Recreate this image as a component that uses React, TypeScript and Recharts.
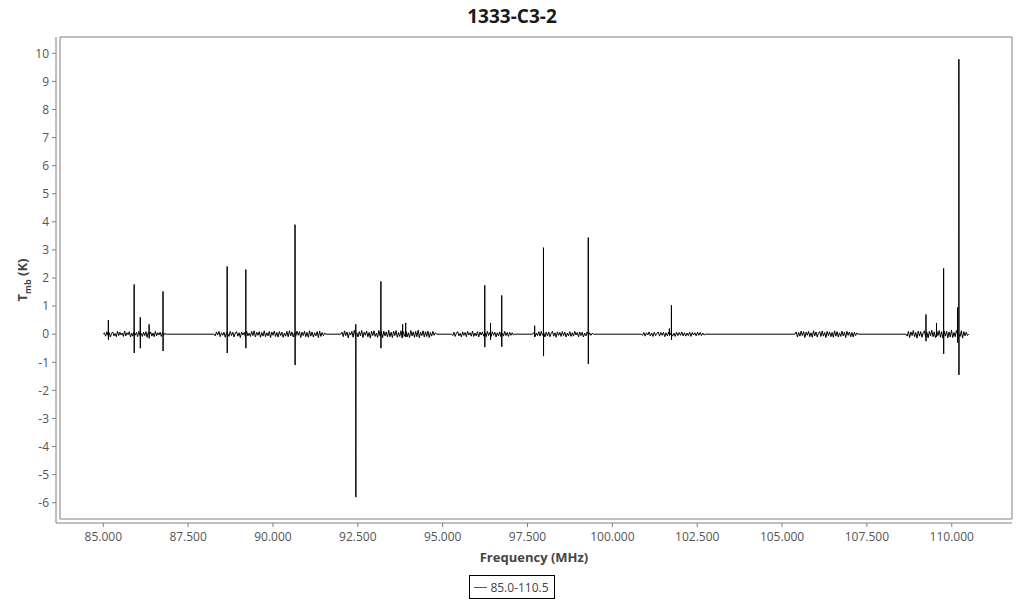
import { LineChart, Line, XAxis, YAxis, ReferenceArea, Legend } from 'recharts';

// Observed spectrum: 8 scanned windows (channel grid start/end in MHz) with baseline noise,
// plus the strong lines picked off the plot.
const segStart = [85.0, 88.26, 92.0, 95.26, 97.65, 100.85, 105.38, 108.65];
const segEnd = [86.85, 91.56, 94.82, 97.12, 99.44, 102.74, 107.24, 110.5];

const noiseA = [0, 0.05, -0.07, 0.09, -0.04, 0.06, -0.1, 0.03, 0.08, -0.06, 0.02, -0.09, 0.1, -0.05, 0.07, -0.03, 0.04, -0.08, 0.11, -0.06, 0.05, -0.02, 0.09, -0.1, 0.04, -0.07, 0.08, -0.03, 0.06, -0.09, 0.1, -0.04, 0.03, -0.08, 0.07, -0.05, 0.09, -0.11, 0.06, -0.02, 0.08, -0.07, 0.04, -0.09, 0.1, -0.06, 0.05, -0.03, 0.07, -0.08, 0.06, -0.04, 0.03, 0];
const noiseB = [0, -0.06, 0.08, -0.03, 0.1, -0.09, 0.05, -0.04, 0.07, -0.11, 0.06, 0.02, -0.08, 0.1, -0.05, 0.07, -0.1, 0.04, 0.09, -0.07, 0.05, -0.12, 0.08, -0.03, 0.06, -0.09, 0.11, -0.06, 0.04, -0.08, 0.1, -0.05, 0.12, -0.1, 0.07, -0.04, 0.09, -0.11, 0.06, -0.07, 0.12, -0.09, 0.05, -0.06, 0.1, -0.12, 0.08, -0.04, 0.11, -0.08, 0.06, -0.1, 0.09, -0.05, 0.07, -0.11, 0.04, -0.07, 0.1, -0.09, 0.12, -0.06, 0.08, -0.1, 0.05, -0.08, 0.11, -0.04, 0.09, -0.12, 0.07, -0.05, 0.1, -0.09, 0.06, -0.11, 0.12, -0.07, 0.08, -0.1, 0.05, -0.06, 0.09, -0.12, 0.11, -0.08, 0.06, -0.05, 0.04, 0];
const noiseC = [0, 0.07, -0.09, 0.12, -0.05, 0.08, -0.13, 0.06, -0.03, 0.1, -0.11, 0.14, -0.07, 0.05, -0.1, 0.09, -0.06, 0.13, -0.12, 0.07, -0.04, 0.11, -0.09, 0.06, -0.14, 0.1, -0.05, 0.12, -0.08, 0.04, -0.11, 0.13, -0.07, 0.09, -0.13, 0.11, -0.06, 0.08, -0.1, 0.14, -0.09, 0.07, -0.12, 0.1, -0.05, 0.13, -0.11, 0.06, -0.08, 0.12, -0.14, 0.09, -0.07, 0.11, -0.1, 0.05, -0.12, 0.13, -0.06, 0.08, -0.11, 0.1, -0.09, 0.14, -0.13, 0.07, -0.05, 0.12, -0.1, 0.09, -0.08, 0.11, -0.12, 0.06, -0.07, 0.1, -0.04, 0.05, 0];
const noiseD = [0, -0.05, 0.07, -0.08, 0.04, 0.09, -0.06, 0.03, -0.1, 0.08, -0.04, 0.06, -0.09, 0.1, -0.03, 0.05, -0.07, 0.11, -0.08, 0.04, -0.06, 0.09, -0.1, 0.07, -0.03, 0.08, -0.07, 0.05, -0.09, 0.1, -0.05, 0.06, -0.08, 0.09, -0.04, 0.07, -0.1, 0.05, -0.06, 0.08, -0.09, 0.04, -0.07, 0.1, -0.05, 0.06, -0.08, 0.07, -0.04, 0.05, -0.03, 0];
const noiseE = [0, 0.06, -0.08, 0.04, -0.05, 0.09, -0.07, 0.1, -0.04, 0.05, -0.1, 0.07, -0.06, 0.08, -0.09, 0.03, 0.1, -0.07, 0.05, -0.11, 0.08, -0.04, 0.06, -0.08, 0.09, -0.05, 0.07, -0.1, 0.04, -0.06, 0.09, -0.08, 0.05, -0.07, 0.1, -0.03, 0.06, -0.09, 0.08, -0.05, 0.07, -0.1, 0.04, -0.06, 0.08, -0.07, 0.05, -0.04, 0.03, 0];
const noiseF = [0, -0.04, 0.06, -0.07, 0.05, -0.03, 0.08, -0.06, 0.04, -0.08, 0.07, -0.05, 0.03, 0.08, -0.07, 0.06, -0.04, 0.07, -0.09, 0.05, -0.06, 0.08, -0.03, 0.06, -0.07, 0.04, -0.08, 0.07, -0.05, 0.06, -0.04, 0.08, -0.06, 0.05, -0.07, 0.04, -0.05, 0.07, -0.08, 0.06, -0.03, 0.05, -0.06, 0.07, -0.04, 0.06, -0.05, 0.04, -0.03, 0];
const noiseG = [0, 0.08, -0.1, 0.06, -0.07, 0.11, -0.05, 0.09, -0.12, 0.07, -0.04, 0.1, -0.09, 0.05, -0.11, 0.12, -0.06, 0.08, -0.1, 0.04, 0.09, -0.08, 0.11, -0.07, 0.06, -0.12, 0.1, -0.05, 0.08, -0.09, 0.06, -0.11, 0.12, -0.07, 0.09, -0.1, 0.05, -0.08, 0.11, -0.06, 0.07, -0.12, 0.1, -0.04, 0.08, -0.09, 0.06, -0.1, 0.07, -0.05, 0.04, 0];
const noiseH = [0, -0.07, 0.1, -0.12, 0.08, -0.05, 0.13, -0.09, 0.06, -0.14, 0.11, -0.07, 0.09, -0.11, 0.05, 0.12, -0.1, 0.07, -0.13, 0.1, -0.06, 0.14, -0.09, 0.08, -0.12, 0.11, -0.05, 0.13, -0.11, 0.09, -0.14, 0.12, -0.07, 0.1, -0.13, 0.08, -0.1, 0.14, -0.12, 0.06, -0.09, 0.13, -0.11, 0.1, -0.08, 0.12, -0.14, 0.09, -0.06, 0.07, -0.05, 0];
const segNoise = [noiseA, noiseB, noiseC, noiseD, noiseE, noiseF, noiseG, noiseH];

const lineFreq = [85.15, 85.91, 86.09, 86.35, 86.76, 88.65, 89.2, 90.65, 92.44, 93.18, 93.82, 93.91, 96.24, 96.41, 96.74, 97.71, 97.97, 99.29, 101.68, 101.74, 109.24, 109.55, 109.76, 110.17, 110.21];
const lineHigh = [0.5, 1.77, 0.6, 0.35, 1.52, 2.41, 2.3, 3.9, 0.35, 1.88, 0.35, 0.4, 1.74, 0.4, 1.38, 0.3, 3.08, 3.44, 0.2, 1.03, 0.7, 0.4, 2.34, 0.95, 9.79];
const lineLow = [-0.2, -0.67, -0.5, -0.15, -0.6, -0.67, -0.5, -1.1, -5.8, -0.5, -0.1, -0.1, -0.46, -0.2, -0.45, -0.1, -0.78, -1.06, -0.05, -0.2, -0.25, -0.1, -0.7, -0.3, -1.45];

const xTicks = [85, 87.5, 90, 92.5, 95, 97.5, 100, 102.5, 105, 107.5, 110];
const yTicks = [-6, -5, -4, -3, -2, -1, 0, 1, 2, 3, 4, 5, 6, 7, 8, 9, 10];
const xDomain = [83.725, 111.775];
const yDomain = [-6.58, 10.58];

const spectrum: { f: number; t: number }[] = [];
segNoise.forEach((vals, s) => {
  const step = (segEnd[s] - segStart[s]) / (vals.length - 1);
  vals.forEach((v, i) => spectrum.push({ f: segStart[s] + i * step, t: v }));
});
// each line: rise from baseline, peak, dip, back to baseline (a few kHz wide)
lineFreq.forEach((f, i) => {
  spectrum.push({ f: f - 0.001, t: 0 });
  spectrum.push({ f, t: lineHigh[i] });
  spectrum.push({ f: f + 0.002, t: lineLow[i] });
  spectrum.push({ f: f + 0.003, t: 0 });
});
spectrum.sort((a, b) => a.f - b.f);

const FONT = "'Open Sans', sans-serif";

const YLabel = (props: any) => {
  const vb = props.viewBox || { y: 37, height: 486 };
  const cy = vb.y + vb.height / 2;
  return (
    <text x={27} y={cy} transform={`rotate(-90, 27, ${cy})`} textAnchor="middle" fontFamily={FONT} fontWeight="bold" fontSize={13} fill="#444">
      <tspan>T</tspan>
      <tspan fontSize={9} dy={4}>mb</tspan>
      <tspan dy={-4}> (K)</tspan>
    </text>
  );
};

const LegendBox = () => (
  <div style={{ height: 26, display: 'flex', justifyContent: 'center', alignItems: 'flex-end', paddingLeft: 12 }}>
    <div style={{ border: '1px solid #000', height: 22, padding: '0 5px 0 4px', display: 'flex', alignItems: 'center', fontFamily: FONT, fontSize: 12, color: '#444', background: '#fff' }}>
      <span style={{ display: 'inline-block', width: 13, height: 1, background: '#555', marginRight: 3 }} />
      85.0-110.5
    </div>
  </div>
);

export default function App() {
  return (
    <div style={{ position: 'absolute', left: 0, top: 0, width: 1024, height: 600, background: '#fff' }}>
      <div style={{ position: 'absolute', top: 3, width: 1024, textAlign: 'center', fontFamily: FONT, fontWeight: 'bold', fontSize: 19, color: '#1a1a1a' }}>
        1333-C3-2
      </div>
      <LineChart width={1024} height={600} data={spectrum} margin={{ top: 37, right: 12, bottom: 1, left: 0 }}>
        <ReferenceArea x1={xDomain[0]} x2={xDomain[1]} y1={yDomain[0]} y2={yDomain[1]} fill="none" stroke="#808080" strokeWidth={1} ifOverflow="visible" />
        <XAxis
          dataKey="f"
          type="number"
          domain={xDomain}
          ticks={xTicks}
          allowDataOverflow
          padding={{ left: 4, right: 0 }}
          height={50}
          tickSize={4}
          tickMargin={5}
          stroke="#808080"
          tick={{ fill: '#555', fontSize: 12, fontFamily: FONT }}
          tickFormatter={(v: number) => v.toFixed(3)}
          label={{ value: 'Frequency (MHz)', position: 'insideBottom', offset: 11, fill: '#444', fontSize: 13, fontWeight: 'bold', fontFamily: FONT }}
        />
        <YAxis
          type="number"
          domain={yDomain}
          ticks={yTicks}
          allowDataOverflow
          padding={{ top: 0, bottom: 4 }}
          width={56}
          tickSize={4}
          tickMargin={3}
          stroke="#808080"
          tick={{ fill: '#555', fontSize: 12, fontFamily: FONT }}
          label={<YLabel />}
        />
        <Legend verticalAlign="bottom" content={<LegendBox />} />
        <Line dataKey="t" type="linear" stroke="#000" strokeWidth={1} dot={false} activeDot={false} isAnimationActive={false} name="85.0-110.5" />
      </LineChart>
    </div>
  );
}
